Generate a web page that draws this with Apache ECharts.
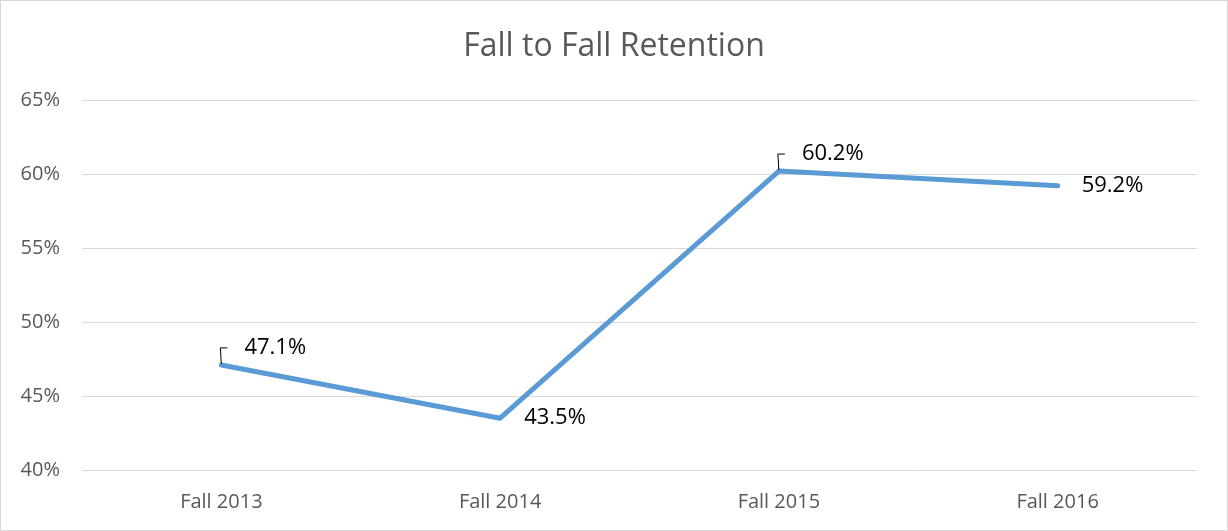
<!DOCTYPE html>
<html>
<head>
<meta charset="utf-8">
<script src="https://cdn.jsdelivr.net/npm/echarts@6/dist/echarts.min.js"></script>
<style>
  html, body { margin: 0; padding: 0; background: #fff; }
  #main { width: 1226px; height: 529px; border: 1px solid #d9d9d9; }
</style>
</head>
<body>
<div id="main"></div>
<script>
// 数据
var categories = ['Fall 2013', 'Fall 2014', 'Fall 2015', 'Fall 2016'];
var retention = [47.1, 43.5, 60.2, 59.2];
var yTicks = [40, 45, 50, 55, 60, 65];

(function () {
    var myChart = echarts.init(document.getElementById('main'));
    var font = '"Open Sans", "Noto Sans", sans-serif';

    // 第一和第三个点的标签在上方，带折线引线
    var data = retention.map(function (v, i) {
        var up = (i === 0 || i === 2);
        return {
            value: v,
            label: up ? {
                position: 'right',
                padding: [0, 0, 0, 17],
                backgroundColor: 'rgba(255,255,255,0)'
            } : {
                position: 'right'
            },
            labelLine: { show: up, length2: 7 }
        };
    });

    var option = {
        title: {
            text: 'Fall to Fall Retention',
            left: 'center',
            top: 25,
            textStyle: { fontFamily: font, fontSize: 32, fontWeight: 'normal', color: '#595959' }
        },
        grid: { left: 81, right: 30, top: 99, bottom: 60 },
        xAxis: {
            type: 'category',
            data: categories,
            boundaryGap: true,
            axisLine: { show: false },
            axisTick: { show: false },
            axisLabel: { fontFamily: font, fontSize: 20, color: '#595959', margin: 22 }
        },
        yAxis: {
            type: 'value',
            min: yTicks[0],
            max: yTicks[yTicks.length - 1],
            interval: 5,
            axisLine: { show: false },
            axisTick: { show: false },
            splitLine: { lineStyle: { color: '#d9d9d9', width: 1 } },
            axisLabel: {
                fontFamily: font, fontSize: 20, color: '#595959', margin: 22,
                formatter: '{value}%'
            }
        },
        series: [{
            type: 'line',
            data: data,
            symbol: 'circle',
            symbolSize: 2,
            itemStyle: { color: '#5b9bd5' },
            lineStyle: { color: '#5b9bd5', width: 5, cap: 'round', join: 'round' },
            label: {
                show: true,
                fontFamily: font,
                fontSize: 22,
                color: '#000',
                formatter: function (p) { return p.value.toFixed(1) + '%'; }
            },
            labelLine: { show: false, lineStyle: { color: '#000', width: 1 } },
            labelLayout: function (params) {
                if (params.dataIndex === 0 || params.dataIndex === 2) {
                    return { dy: -17 };
                }
                return { dx: 18 };
            }
        }]
    };

    myChart.setOption(option);
})();
</script>
</body>
</html>
